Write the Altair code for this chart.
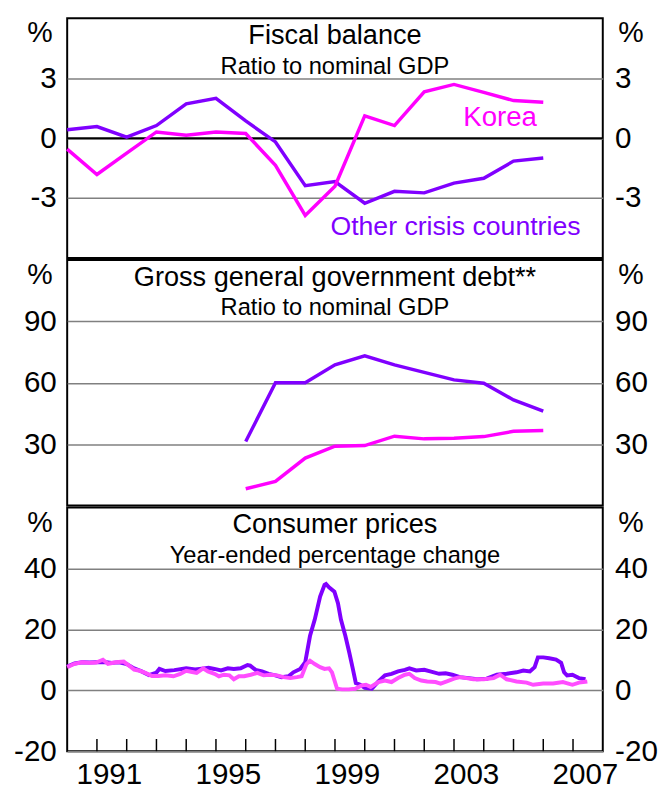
import altair as alt
import pandas as pd

# ---------------- data ----------------
years_annual = list(range(1990, 2007))
fiscal_korea = [-0.55, -1.82, -0.75, 0.31, 0.15, 0.31, 0.23, -1.36, -3.87, -2.41, 1.12, 0.63, 2.32, 2.69, 2.29, 1.88, 1.80]
fiscal_other = [0.42, 0.58, 0.05, 0.63, 1.72, 1.99, 0.86, -0.19, -2.38, -2.17, -3.26, -2.66, -2.74, -2.25, -2.01, -1.15, -0.99]

debt_years = list(range(1996, 2007))
debt_korea = [8.2, 11.8, 23.2, 29.0, 29.3, 33.9, 32.6, 32.9, 33.7, 36.3, 36.7]
debt_other = [31.3, 60.0, 60.0, 68.8, 73.2, 68.7, 65.1, 61.4, 59.8, 51.6, 46.1]

cpi_other_t = [1990.0, 1990.25, 1990.5, 1990.75, 1991.0, 1991.25, 1991.5, 1991.75, 1992.0, 1992.25,
               1992.5, 1992.75, 1993.0, 1993.1, 1993.3, 1993.6, 1994.0, 1994.3, 1994.6, 1994.75,
               1994.95, 1995.17, 1995.4, 1995.6, 1995.83, 1996.06, 1996.15, 1996.33, 1996.55, 1996.77,
               1997.0, 1997.2, 1997.44, 1997.6, 1997.83, 1998.0, 1998.16, 1998.32, 1998.5, 1998.65,
               1998.7, 1998.8, 1998.98, 1999.1, 1999.2, 1999.35, 1999.48, 1999.6, 1999.7, 1999.85,
               2000.0, 2000.24, 2000.46, 2000.68, 2000.9, 2001.12, 2001.35, 2001.5, 2001.73, 2002.0,
               2002.2, 2002.5, 2002.72, 2002.94, 2003.2, 2003.5, 2003.77, 2004.1, 2004.44, 2004.77,
               2005.1, 2005.33, 2005.55, 2005.71, 2005.82, 2006.0, 2006.2, 2006.43, 2006.6, 2006.7,
               2006.8, 2006.98, 2007.2, 2007.42]
cpi_other_v = [7.8, 8.8, 9.2, 9.1, 9.2, 9.3, 9.0, 9.2, 8.6, 7.2,
               6.2, 5.0, 5.8, 7.0, 6.3, 6.6, 7.2, 6.8, 7.2, 7.4,
               7.0, 6.5, 7.2, 7.0, 7.2, 8.3, 8.1, 6.7, 6.2, 5.4,
               4.9, 4.3, 4.6, 5.9, 7.0, 9.2, 17.8, 23.2, 30.8, 34.6,
               34.9, 33.8, 32.4, 28.6, 23.2, 17.8, 12.4, 7.0, 2.4, 1.8,
               0.8, 0.5, 2.9, 4.9, 5.4, 6.2, 6.7, 7.2, 6.5, 6.7,
               6.2, 5.4, 5.6, 5.1, 4.3, 4.0, 3.6, 3.8, 5.1, 5.4,
               5.9, 6.5, 6.2, 7.6, 10.8, 10.8, 10.5, 10.1, 9.0, 5.9,
               4.9, 5.1, 4.0, 3.6]

cpi_korea_t = [1990.0, 1990.25, 1990.5, 1990.75, 1990.97, 1991.12, 1991.2, 1991.37, 1991.63, 1991.9,
               1992.08, 1992.25, 1992.4, 1992.63, 1992.85, 1993.07, 1993.3, 1993.57, 1993.8, 1994.0,
               1994.2, 1994.35, 1994.57, 1994.73, 1994.95, 1995.1, 1995.27, 1995.45, 1995.6, 1995.77,
               1995.95, 1996.17, 1996.39, 1996.6, 1996.83, 1997.05, 1997.27, 1997.5, 1997.72, 1997.88,
               1998.04, 1998.16, 1998.32, 1998.5, 1998.65, 1998.8, 1998.9, 1999.07, 1999.24, 1999.46,
               1999.68, 1999.9, 2000.04, 2000.2, 2000.46, 2000.68, 2000.9, 2001.12, 2001.35, 2001.5,
               2001.68, 2001.9, 2002.1, 2002.38, 2002.55, 2002.76, 2003.0, 2003.2, 2003.42, 2003.65,
               2004.0, 2004.33, 2004.55, 2004.77, 2005.1, 2005.44, 2005.66, 2006.0, 2006.33, 2006.66,
               2006.98, 2007.2, 2007.48]
cpi_korea_v = [7.6, 8.7, 9.2, 9.0, 9.1, 9.7, 10.0, 8.7, 9.2, 9.4,
               8.1, 6.8, 6.5, 5.7, 4.7, 4.7, 4.9, 4.6, 5.4, 6.4,
               6.0, 5.7, 7.2, 6.2, 5.4, 4.6, 5.1, 4.9, 3.6, 4.6,
               4.6, 5.1, 5.7, 4.9, 5.1, 4.9, 4.3, 4.0, 4.3, 4.6,
               8.6, 9.7, 8.6, 7.6, 7.0, 7.2, 5.9, 0.5, 0.3, 0.3,
               0.5, 1.6, 1.8, 1.1, 2.7, 3.2, 2.7, 4.0, 5.1, 5.4,
               4.0, 3.2, 2.9, 2.7, 2.2, 2.9, 3.8, 4.3, 4.0, 3.6,
               3.6, 4.0, 5.1, 3.6, 2.9, 2.5, 1.8, 2.2, 2.2, 2.7,
               1.8, 2.5, 2.9]

tick_years = list(range(1991, 2008))
label_years = [1991, 1995, 1999, 2003, 2007]

# ---------------- style ----------------
PURPLE = "#8000FF"
MAGENTA = "#FF00FF"
CPI_MAGENTA = "#FF4DFF"
GRID = "#808080"
FONT = "Liberation Sans"
W = 543
XDOM = [1990, 2008]
AXIS_FS = 30


def xscale():
    return alt.Scale(domain=XDOM, nice=False, zero=False)


def x_enc(axis):
    return alt.X("t:Q", scale=xscale(), axis=axis)


def frame(t, v):
    return pd.DataFrame({"t": t, "v": v})


def y_axis(orient, values, grid):
    return alt.Axis(
        orient=orient, values=values, grid=grid, gridColor=GRID, gridWidth=1.5, gridOpacity=1,
        ticks=False, domain=False, labelFont=FONT, labelFontSize=AXIS_FS, labelColor="black",
        labelExpr="datum.value",
        labelPadding=11 if orient == "left" else 12, labelFlush=False, labelOverlap=False,
        title="%", titleFont=FONT, titleFontSize=29, titleFontWeight="normal", titleColor="black",
        titleAngle=0, titleX=-28 if orient == "left" else 28, titleY=15,
        titleAlign="center", titleBaseline="middle",
    )


def text_value(txt, x, y, size, color="black"):
    return alt.Chart(pd.DataFrame({"a": [0]})).mark_text(
        text=txt, font=FONT, fontSize=size, color=color, align="center", baseline="middle"
    ).encode(x=alt.value(x), y=alt.value(y))


def text_datum(txt, x, y, yscale, size, color):
    return alt.Chart(pd.DataFrame({"a": [0]})).mark_text(
        text=txt, font=FONT, fontSize=size, color=color, align="center", baseline="middle"
    ).encode(
        x=alt.X(datum=x, scale=xscale(), axis=None),
        y=alt.Y(datum=y, scale=yscale, axis=None),
    )


def panel(series, ydom, yvals, title, subtitle, extra_fn, labels, xaxis, height):
    scale = alt.Scale(domain=ydom, nice=False, zero=False)
    xe = x_enc(xaxis)
    left_layer = alt.Chart(series[0][0]).mark_line(opacity=0).encode(
        x=xe, y=alt.Y("v:Q", scale=scale, axis=y_axis("left", yvals, True))
    )
    right_layer = alt.Chart(series[0][0]).mark_line(opacity=0).encode(
        x=xe, y=alt.Y("v:Q", scale=scale, axis=y_axis("right", yvals, False))
    )
    extra = extra_fn(scale, xe)
    line_layers = []
    for df, color, sw in series:
        line_layers.append(
            alt.Chart(df).mark_line(color=color, strokeWidth=sw).encode(
                x=xe, y=alt.Y("v:Q", scale=scale, axis=None)
            )
        )
    texts = [
        text_value(title, W / 2, 18, 27.5),
        text_value(subtitle, W / 2, 49, 24),
    ]
    lab_layers = [text_datum(t, x, y, scale, fs, c) for (t, x, y, c, fs) in labels]
    return alt.layer(left_layer, right_layer, *extra, *line_layers, *texts, *lab_layers).resolve_axis(
        y="independent"
    ).properties(width=W, height=height)


# Panel 1: fiscal balance
def fiscal_extra(scale, xe):
    return [
        alt.Chart(pd.DataFrame({"a": [0]})).mark_rule(color="black", strokeWidth=2).encode(
            y=alt.Y(datum=0, scale=scale, axis=None)
        )
    ]


p1 = panel(
    [(frame(years_annual, fiscal_other), PURPLE, 3.5), (frame(years_annual, fiscal_korea), MAGENTA, 3.5)],
    [-6, 6], [-3, 0, 3], "Fiscal balance", "Ratio to nominal GDP",
    fiscal_extra,
    [("Korea", 2004.55, 1.0, MAGENTA, 28), ("Other crisis countries", 2003.05, -4.45, PURPLE, 27)],
    None, 243,
)

# Panel 2: debt
p2 = panel(
    [(frame(debt_years, debt_other), PURPLE, 3.5), (frame(debt_years, debt_korea), MAGENTA, 3.5)],
    [0, 120], [30, 60, 90], "Gross general government debt**", "Ratio to nominal GDP",
    lambda s, xe: [], [], None, 249,
)

# Panel 3: CPI
xaxis_bottom = alt.Axis(
    values=[y + 0.4 for y in label_years], labelExpr="floor(datum.value)",
    ticks=False, domain=False, grid=False, labelFont=FONT, labelFontSize=AXIS_FS,
    labelColor="black", labelPadding=9, labelFlush=False, labelOverlap=False, title=None,
)


def cpi_extra(scale, xe):
    return [
        alt.Chart(pd.DataFrame({"t": tick_years})).mark_rule(color="black", strokeWidth=1.5).encode(
            x=xe,
            y=alt.Y(datum=-20, scale=scale, axis=None),
            y2=alt.Y2(datum=-16),
        )
    ]


p3 = panel(
    [(frame(cpi_other_t, cpi_other_v), PURPLE, 4), (frame(cpi_korea_t, cpi_korea_v), CPI_MAGENTA, 4)],
    [-20, 60], [-20, 0, 20, 40], "Consumer prices", "Year-ended percentage change",
    cpi_extra, [], xaxis_bottom, 247,
)

chart = alt.vconcat(p1, p2, p3, spacing=0).properties(
    padding={"left": 4, "top": 4, "right": 0, "bottom": 0}
).configure_view(stroke="black", strokeWidth=2)

chart.save("out.html", embed_options={"renderer": "svg", "actions": False})
